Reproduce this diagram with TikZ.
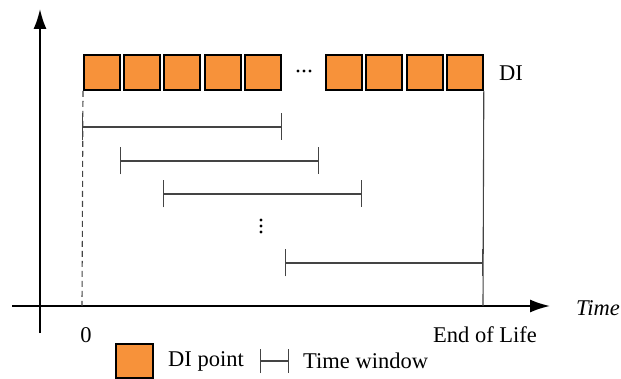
\documentclass[tikz,border=0pt]{standalone}
\usepackage{fontspec}
\setmainfont{Liberation Serif}
\usetikzlibrary{arrows.meta}
\definecolor{diorange}{HTML}{F7923A}
\definecolor{wingray}{HTML}{444444}
\begin{document}
\begin{tikzpicture}[x=1pt,y=-1pt,
  dibox/.style={draw=black,line width=1.8pt,fill=diorange,minimum width=36pt,minimum height=35pt,inner sep=0pt,anchor=north west},
  lbl/.style={inner sep=0pt,font=\fontsize{22.5}{26}\selectfont},
  axis/.style={line width=1.8pt,-{Latex[length=20pt,width=13pt]}},
  twin/.style={draw=wingray,line width=1.1pt,{Bar[width=27pt,line width=1.3pt]}-{Bar[width=27pt,line width=1.3pt]}},
  dotc/.style={fill=black,circle,inner sep=0pt,minimum size=3.2pt}]
\useasboundingbox (0,0) rectangle (621,379);
% axes
\coordinate (yb) at (40,333);
\coordinate (yt) at (40,9);
\coordinate (xl) at (12,306);
\coordinate (xr) at (550,306);
\draw[axis] (yb) -- (yt);
\draw[axis] (xl) -- (xr);
% DI boxes
\foreach \n/\x in {1/83,2/123,3/163,4/204,5/244,6/325,7/365,8/406,9/446}
  \node[dibox] (s\n) at (\x,54) {};
\node[dotc] (e1) at (298,71) {};
\node[dotc] (e2) at (304,71) {};
\node[dotc] (e3) at (310,71) {};
\node[lbl,anchor=west] (di) at (499,73) {DI};
% guide lines
\coordinate (z0) at (82,306);
\coordinate (eol) at (483,306);
\draw[wingray,line width=1.1pt,dash pattern=on 6pt off 4pt] (s1.south west) -- (z0);
\draw[wingray,line width=1.1pt] (s9.south east) -- (eol);
% time windows
\coordinate (a1) at (82,127);  \coordinate (b1) at (282,127);
\coordinate (a2) at (120,161); \coordinate (b2) at (319,161);
\coordinate (a3) at (163,194); \coordinate (b3) at (362,194);
\coordinate (a4) at (285,263); \coordinate (b4) at (483,263);
\draw[twin] (a1) -- (b1);
\draw[twin] (a2) -- (b2);
\draw[twin] (a3) -- (b3);
\draw[twin] (a4) -- (b4);
\node[dotc] (v1) at (261,220) {};
\node[dotc] (v2) at (261,226) {};
\node[dotc] (v3) at (261,232) {};
% labels
\node[lbl,anchor=west] (tm) at (576,308) {\itshape Time};
\node[lbl] (zero) at (86,335) {0};
\node[lbl] (end) at (485,335) {End of Life};
% legend
\node[dibox,minimum width=37pt,minimum height=34pt] (lg) at (115,343) {};
\node[lbl,anchor=west] (lgt) at (168,361) {DI point};
\coordinate (la) at (260,361); \coordinate (lb) at (289,361);
\draw[twin,{Bar[width=24pt,line width=1.3pt]}-{Bar[width=24pt,line width=1.3pt]}] (la) -- (lb);
\node[lbl,anchor=west] (lwt) at (303,361) {Time window};
\end{tikzpicture}
\end{document}
